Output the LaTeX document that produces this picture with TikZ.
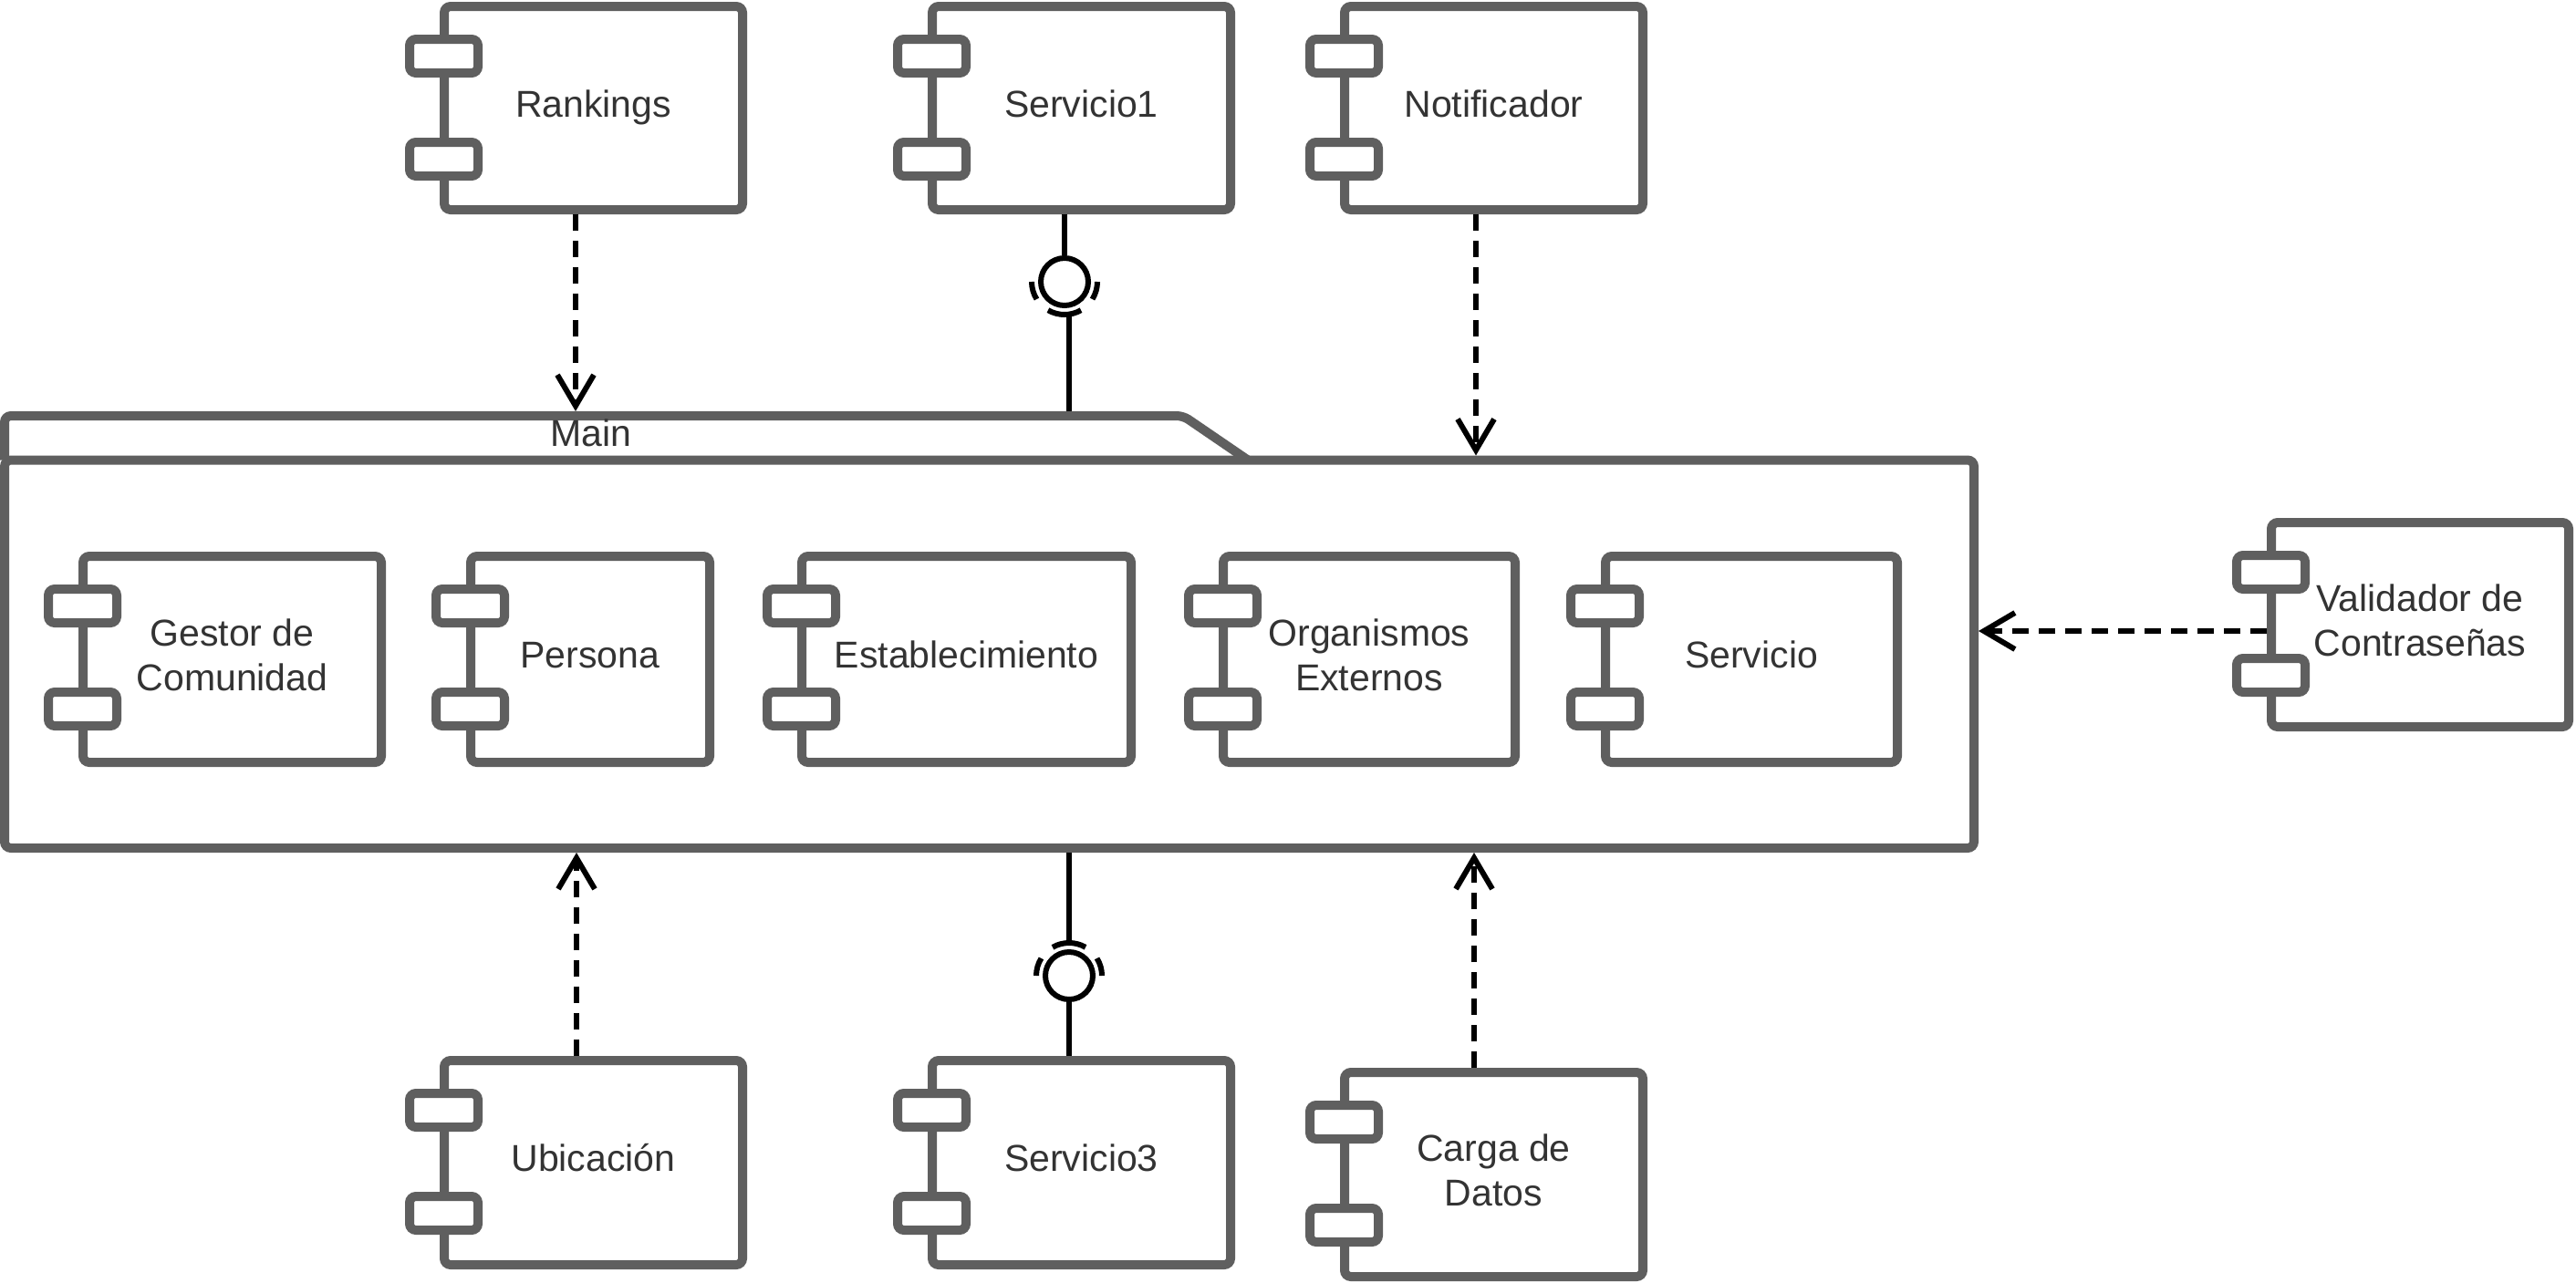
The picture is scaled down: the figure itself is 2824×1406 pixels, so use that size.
\documentclass[tikz,border=0pt]{standalone}
\usepackage{fontspec}
\setmainfont{Liberation Sans}
\usetikzlibrary{arrows.meta,calc}
\definecolor{edgegray}{HTML}{5F5F5F}
\definecolor{txtgray}{HTML}{333333}
% name, path-left, path-top, width, height, text
\newcommand{\compo}[6]{%
  \node[compbox, anchor=north west, minimum width=#4pt, minimum height=#5pt] (#1) at (#2-5,#3-5) {\strut #6\strut};
  \draw[portbox] ($(#1.north west)+(-33,41)$) rectangle ++(75,37);
  \draw[portbox] ($(#1.north west)+(-33,154)$) rectangle ++(75,37);
}
\begin{document}
\begin{tikzpicture}[x=1pt,y=-1pt,
  compbox/.style={draw=edgegray, line width=10pt, rounded corners=7pt, fill=white, align=center, text=txtgray, font=\fontsize{41}{49}\selectfont, inner sep=0pt},
  portbox/.style={draw=edgegray, line width=10pt, rounded corners=7pt, fill=white},
  pkgline/.style={draw=edgegray, line width=10pt, rounded corners=7pt},
  dep/.style={draw=black, line width=6pt, dash pattern=on 18pt off 11pt, -{Straight Barb[length=34pt,width=40pt]}},
  conn/.style={draw=black, line width=6pt},
  ball/.style={circle, draw=black, line width=6pt, fill=white, minimum size=52pt, inner sep=0pt},
  lbl/.style={text=txtgray, font=\fontsize{41}{49}\selectfont, inner sep=0pt}
]
\useasboundingbox[fill=white] (0,0) rectangle (2824,1406);

% package "Main"
\draw[pkgline] (5,504.5) -- (5,456) -- (1297,456) -- (1368,504.5);
\coordinate (tab) at (5,451);
\node[draw=edgegray, line width=10pt, rounded corners=7pt, anchor=north west, minimum width=2159pt, minimum height=425.5pt, inner sep=0pt] (main) at (0,499.5) {};
\node[lbl] (mainlbl) at (648,475) {Main};

% inner components
\compo{gestor}{91}{610}{327}{226}{Gestor de\\Comunidad}
\compo{persona}{516}{610}{262}{226}{Persona}
\compo{estab}{879}{610}{361}{226}{Establecimiento}
\compo{organ}{1341}{610}{320}{226}{Organismos\\Externos}
\compo{servicio}{1760}{610}{320}{226}{Servicio}

% outer components
\compo{rank}{487}{7}{327}{223}{Rankings}
\compo{serv1}{1022}{7}{327}{223}{Servicio1}
\compo{notif}{1474}{7}{327}{223}{Notificador}
\compo{ubic}{487}{1163}{327}{224}{Ubicación}
\compo{serv3}{1022}{1163}{327}{224}{Servicio3}
\compo{carga}{1474}{1176}{327}{224}{Carga de\\Datos}
\compo{valid}{2490}{573}{326}{224}{Validador de\\Contraseñas}

% dependencies
\coordinate (r1) at ($(rank.south west)+(149,0)$);
\draw[dep] (r1) -- (r1 |- tab);
\coordinate (n1) at ($(notif.south west)+(149,0)$);
\draw[dep] (n1) -- (n1 |- main.north);
\coordinate (u1) at ($(ubic.north west)+(150,0)$);
\draw[dep] (u1) -- (u1 |- main.south);
\coordinate (c1) at ($(carga.north west)+(147,0)$);
\draw[dep] (c1) -- (c1 |- main.south);
\coordinate (v1) at ($(valid.west)+(0,7)$);
\draw[dep] (v1) -- (v1 -| main.east);

% provided / required interface Servicio1
\node[ball] (b1) at (1167,309) {};
\draw[conn] (b1 |- serv1.south) -- (b1.north);
\draw[conn] (b1.center) ++(180:36pt) arc[start angle=180,end angle=212,radius=36pt];
\draw[conn] (b1.center) ++(240:36pt) arc[start angle=240,end angle=300,radius=36pt];
\draw[conn] (b1.center) ++(328:36pt) arc[start angle=328,end angle=360,radius=36pt];
\coordinate (s1) at ($(b1.center)+(5,38)$);
\draw[conn] (s1) -- (s1 |- tab);

% provided / required interface Servicio3
\node[ball] (b3) at (1172,1070) {};
\draw[conn] (b3 |- main.south) -- ($(b3.center)+(0,-38)$);
\draw[conn] (b3.center) ++(0:36pt) arc[start angle=0,end angle=32,radius=36pt];
\draw[conn] (b3.center) ++(60:36pt) arc[start angle=60,end angle=120,radius=36pt];
\draw[conn] (b3.center) ++(148:36pt) arc[start angle=148,end angle=180,radius=36pt];
\draw[conn] (b3.south) -- (b3 |- serv3.north);
\end{tikzpicture}
\end{document}
